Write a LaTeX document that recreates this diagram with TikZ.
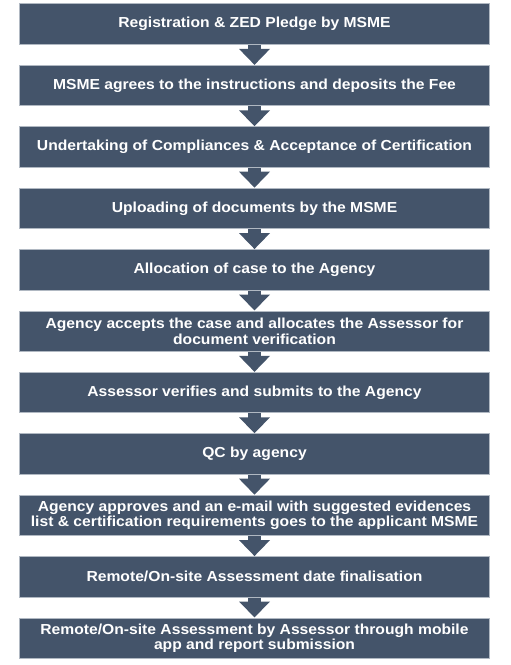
\documentclass[tikz,border=0pt]{standalone}
\usepackage{fontspec}
\setmainfont{Liberation Sans}[FakeStretch=1.08]
\usetikzlibrary{arrows.meta}
\definecolor{boxfill}{HTML}{44546A}
\definecolor{boxedge}{HTML}{B0B8C2}
\tikzset{
  stepbox/.style={fill=boxfill, draw=boxedge, line width=1bp, minimum width=469bp, minimum height=40.5bp,
    inner sep=0pt, text=white, align=center, font=\bfseries\fontsize{14.5bp}{15.5bp}\selectfont},
  flowarrow/.style={draw=boxfill, line width=13bp, -{Triangle[width=30bp,length=16bp]}}
}
\begin{document}
\begin{tikzpicture}[x=1bp,y=-1bp]
\useasboundingbox (0,0) rectangle (511,665);
\node[stepbox] (b1) at (254.5,24.25) {Registration \& ZED Pledge by MSME};
\node[stepbox] (b2) at (254.5,85.65) {MSME agrees to the instructions and deposits the Fee};
\node[stepbox] (b3) at (254.5,147.05) {Undertaking of Compliances \& Acceptance of Certification};
\node[stepbox] (b4) at (254.5,208.45) {Uploading of documents by the MSME};
\node[stepbox] (b5) at (254.5,269.85) {Allocation of case to the Agency};
\node[stepbox] (b6) at (254.5,331.25) {Agency accepts the case and allocates the Assessor for\\document verification};
\node[stepbox] (b7) at (254.5,392.65) {Assessor verifies and submits to the Agency};
\node[stepbox] (b8) at (254.5,454.05) {QC by agency};
\node[stepbox] (b9) at (254.5,515.45) {Agency approves and an e-mail with suggested evidences\\list \& certification requirements goes to the applicant MSME};
\node[stepbox] (b10) at (254.5,576.85) {Remote/On-site Assessment date finalisation};
\node[stepbox] (b11) at (254.5,638.25) {Remote/On-site Assessment by Assessor through mobile\\app and report submission};
\foreach \a/\b in {b1/b2,b2/b3,b3/b4,b4/b5,b5/b6,b6/b7,b7/b8,b8/b9,b9/b10,b10/b11}
  \draw[flowarrow] (\a.south) -- (\b.north);
\end{tikzpicture}
\end{document}
